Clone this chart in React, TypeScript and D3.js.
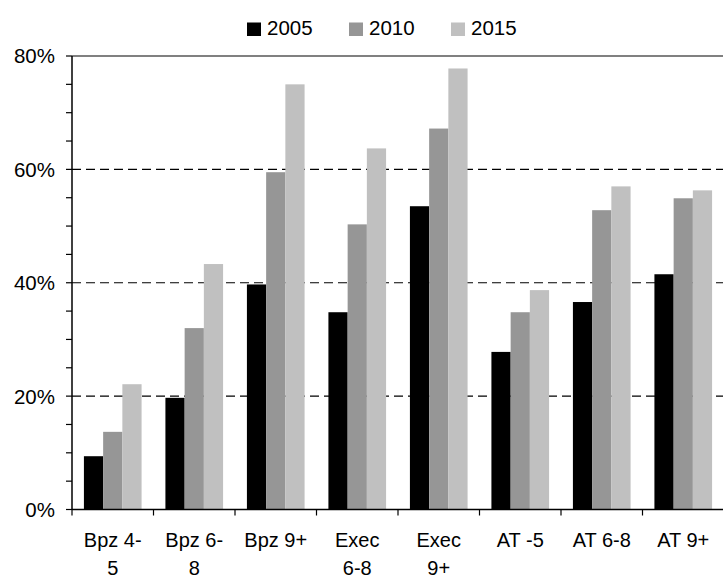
import React from "react";
import * as d3 from "d3";

const categories = [["Bpz 4-", "5"], ["Bpz 6-", "8"], ["Bpz 9+"], ["Exec", "6-8"], ["Exec", "9+"], ["AT -5"], ["AT 6-8"], ["AT 9+"]];
const seriesNames = ["2005", "2010", "2015"];
const values2005 = [9.4, 19.7, 39.7, 34.8, 53.5, 27.8, 36.6, 41.5];
const values2010 = [13.7, 32.0, 59.5, 50.3, 67.2, 34.8, 52.8, 54.9];
const values2015 = [22.1, 43.3, 75.0, 63.7, 77.8, 38.7, 57.0, 56.3];
const seriesValues = [values2005, values2010, values2015];
const colors = ["#000000", "#969696", "#C0C0C0"];
const yTicks = [0, 20, 40, 60, 80];
const minorTicks = d3.range(0, 81, 5);

const W = 723, H = 578;
const left = 72, right = 724, top = 56, bottom = 509.5;
const font = "'Liberation Sans', Arial, sans-serif";

export default function App() {
  const keys = categories.map((c, i) => String(i));
  const x0 = d3.scaleBand<string>().domain(keys).range([left, right]).paddingInner(0).paddingOuter(0);
  const x1 = d3.scaleBand<string>().domain(seriesNames).range([0, x0.bandwidth()]).paddingInner(0).paddingOuter(0.62);
  const y = d3.scaleLinear().domain([0, 80]).range([bottom, top]);

  const legendX = [247, 349, 451];

  return (
    <svg width={W} height={H} style={{ position: "absolute", left: 0, top: 0, background: "#fff" }} fontFamily={font}>
      {yTicks.filter(t => t > 0 && t < 80).map(t => (
        <line key={"g" + t} x1={left} x2={right} y1={y(t)} y2={y(t)} stroke="#000" strokeWidth={1.2} strokeDasharray="9,5" />
      ))}
      <line x1={left} x2={right} y1={y(80)} y2={y(80)} stroke="#808080" strokeWidth={2} />
      {seriesValues.map((vals, si) =>
        vals.map((v, ci) => (
          <rect key={si + "-" + ci}
            x={(x0(keys[ci]) as number) + (x1(seriesNames[si]) as number)}
            y={y(v)}
            width={x1.bandwidth()}
            height={y(0) - y(v)}
            fill={colors[si]} />
        ))
      )}
      <line x1={left} x2={left} y1={top} y2={bottom} stroke="#000" strokeWidth={1.5} />
      {minorTicks.map(t => (
        <line key={"m" + t} x1={left - 6} x2={left} y1={y(t)} y2={y(t)} stroke="#000" strokeWidth={1.2} />
      ))}
      {yTicks.map(t => (
        <text key={"yl" + t} x={55} y={y(t)} dy="0.36em" textAnchor="end" fontSize={20.5} fill="#000">{t + "%"}</text>
      ))}
      <line x1={left} x2={right} y1={bottom} y2={bottom} stroke="#000" strokeWidth={1.5} />
      {keys.map(k => (
        <line key={"xt" + k} x1={x0(k) as number} x2={x0(k) as number} y1={bottom} y2={bottom + 6} stroke="#000" strokeWidth={1.2} />
      ))}
      {categories.map((lines, i) => (
        <text key={"xl" + i} x={(x0(keys[i]) as number) + x0.bandwidth() / 2} y={547} textAnchor="middle" fontSize={20} fill="#000">
          {lines.map((ln, j) => (
            <tspan key={j} x={(x0(keys[i]) as number) + x0.bandwidth() / 2} dy={j === 0 ? 0 : 27.5}>{ln}</tspan>
          ))}
        </text>
      ))}
      {seriesNames.map((s, i) => (
        <g key={"lg" + s}>
          <rect x={legendX[i]} y={22.5} width={14} height={13.5} fill={colors[i]} />
          <text x={legendX[i] + 20} y={35} fontSize={20.5} fill="#000">{s}</text>
        </g>
      ))}
    </svg>
  );
}
